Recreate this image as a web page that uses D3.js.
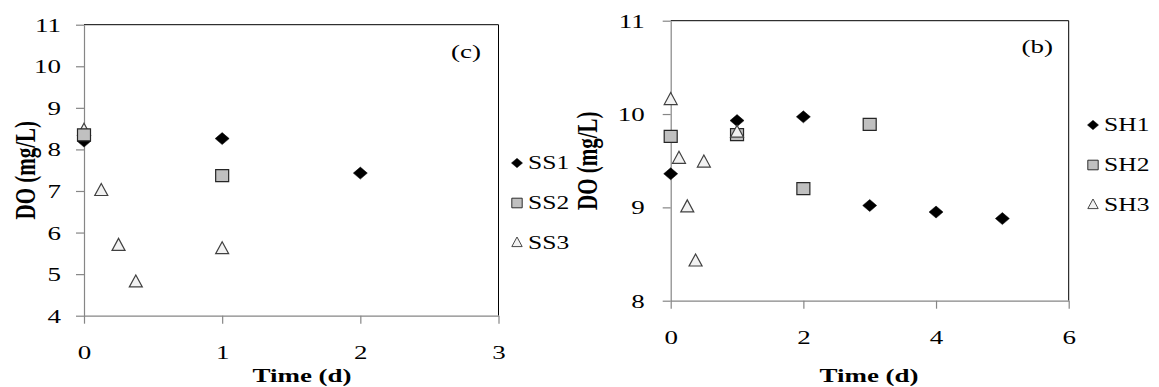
<!DOCTYPE html>
<html>
<head>
<meta charset="utf-8">
<script src="https://cdn.jsdelivr.net/npm/d3@7"></script>
<style>
  html, body { margin: 0; padding: 0; background: #fff; }
  svg { display: block; }
</style>
</head>
<body>
<script>
// panel (c): SS series
const ssTime1 = [0, 1, 2]
const ssDO1 = [8.2, 8.26, 7.43]
const ssTime2 = [0, 1]
const ssDO2 = [8.35, 7.37]
const ssTime3 = [0, 0.125, 0.25, 0.375, 1]
const ssDO3 = [8.45, 7.0, 5.68, 4.8, 5.6]

// panel (b): SH series
const shTime1 = [0, 1, 2, 3, 4, 5]
const shDO1 = [9.36, 9.93, 9.97, 9.02, 8.95, 8.88]
const shTime2 = [0, 1, 2, 3]
const shDO2 = [9.76, 9.78, 9.2, 9.89]
const shTime3 = [0, 0.125, 0.25, 0.375, 0.5, 1]
const shDO3 = [10.15, 9.52, 9.0, 8.42, 9.48, 9.8]

const ssTicksY = [4, 5, 6, 7, 8, 9, 10, 11]
const ssTicksX = [0, 1, 2, 3]
const shTicksY = [8, 9, 10, 11]
const shTicksX = [0, 2, 4, 6]

const width = 1159, height = 387
const FONT = "'Liberation Serif', 'Times New Roman', serif"
const SX = 1.42   // the source picture is stretched sideways

const svg = d3.select('body').append('svg')
  .attr('width', width)
  .attr('height', height)

const zip = (xs, ys) => xs.map((x, i) => ({x: x, y: ys[i]}))

const symbols = {
  diamond: 'M0,-6L7,0L0,6L-7,0Z',
  square: 'M-6.5,-6L6.5,-6L6.5,6L-6.5,6Z',
  triangle: 'M0,-7.5L6.5,4.5L-6.5,4.5Z'
}
const styles = {
  diamond: {fill: '#000', stroke: '#000', sw: 0.5},
  square: {fill: '#c0c0c0', stroke: '#262626', sw: 1.2},
  triangle: {fill: '#f2f2f2', stroke: '#404040', sw: 1.2}
}

const drawPanel = cfg => {
  const x = d3.scaleLinear().domain(cfg.xDomain).range([cfg.left, cfg.right])
  const y = d3.scaleLinear().domain(cfg.yDomain).range([cfg.bottom, cfg.top])
  const g = svg.append('g')

  // frame: top and right in black
  g.append('path')
    .attr('d', `M${cfg.left},${cfg.top}H${cfg.right}V${cfg.bottom}`)
    .attr('fill', 'none').attr('stroke', '#000').attr('stroke-width', 1)

  const yAxis = g.append('g')
    .attr('transform', `translate(${cfg.left},0)`)
    .call(d3.axisLeft(y).tickValues(cfg.yTicks).tickFormat(d3.format('d'))
      .tickSize(8).tickSizeOuter(0).tickPadding(0))
  const xAxis = g.append('g')
    .attr('transform', `translate(0,${cfg.bottom})`)
    .call(d3.axisBottom(x).tickValues(cfg.xTicks).tickFormat(d3.format('d'))
      .tickSize(8).tickSizeOuter(0).tickPadding(0))

  ;[yAxis, xAxis].forEach(a => {
    a.select('.domain').attr('stroke', '#868686').attr('stroke-width', 1.2)
    a.selectAll('.tick line').attr('stroke', '#868686').attr('stroke-width', 1.2)
    a.selectAll('text')
      .attr('font-family', FONT).attr('font-size', 19).attr('fill', '#000')
  })
  yAxis.selectAll('text')
    .attr('x', -cfg.yLabelGap / SX).attr('dy', '0.34em')
    .attr('transform', `scale(${SX},1)`)
  xAxis.selectAll('text')
    .attr('y', 43).attr('dy', 0)
    .attr('transform', `scale(${SX},1)`)

  // axis titles
  g.append('text')
    .attr('transform', `translate(${cfg.titleX},${(cfg.top + cfg.bottom) / 2}) rotate(-90) scale(1,${SX})`)
    .attr('text-anchor', 'middle').attr('dy', '0.33em')
    .attr('font-family', FONT).attr('font-weight', 'bold').attr('font-size', 21)
    .text('DO (mg/L)')
  g.append('text')
    .attr('transform', `translate(${cfg.timeX},382) scale(${SX},1)`)
    .attr('text-anchor', 'middle')
    .attr('font-family', FONT).attr('font-weight', 'bold').attr('font-size', 19)
    .text('Time (d)')

  // panel tag
  g.append('text')
    .attr('transform', `translate(${cfg.tagX},${cfg.tagY}) scale(${SX},1)`)
    .attr('text-anchor', 'end')
    .attr('font-family', FONT).attr('font-size', 19)
    .text(cfg.tag)

  // points
  cfg.order.forEach(i => {
    const s = cfg.series[i]
    const st = styles[s.shape]
    g.append('g').selectAll('path')
      .data(s.points)
      .enter().append('path')
        .attr('d', symbols[s.shape])
        .attr('transform', d => `translate(${x(d.x)},${y(d.y)})`)
        .attr('fill', st.fill).attr('stroke', st.stroke).attr('stroke-width', st.sw)
  })

  // legend
  const leg = g.append('g')
  cfg.series.forEach((s, i) => {
    const ly = cfg.legendY + i * 40
    const st = styles[s.shape]
    leg.append('path')
      .attr('d', symbols[s.shape])
      .attr('transform', `translate(${cfg.legendX},${ly}) scale(0.8)`)
      .attr('fill', st.fill).attr('stroke', st.stroke).attr('stroke-width', st.sw)
    leg.append('text')
      .attr('transform', `translate(${cfg.legendX + 11},${ly}) scale(${SX},1)`)
      .attr('dy', '0.35em')
      .attr('font-family', FONT).attr('font-size', 18)
      .text(s.name)
  })
}

drawPanel({
  left: 84, right: 498.5, top: 24.7, bottom: 315.7,
  xDomain: [0, 3], yDomain: [4, 11],
  xTicks: ssTicksX, yTicks: ssTicksY,
  yLabelGap: 23, titleX: 25, timeX: 302,
  tag: '(c)', tagX: 481, tagY: 58,
  legendX: 517, legendY: 163,
  order: [0, 2, 1],
  series: [
    {name: 'SS1', shape: 'diamond', points: zip(ssTime1, ssDO1)},
    {name: 'SS2', shape: 'square', points: zip(ssTime2, ssDO2)},
    {name: 'SS3', shape: 'triangle', points: zip(ssTime3, ssDO3)}
  ]
})

drawPanel({
  left: 670.7, right: 1068.7, top: 20.7, bottom: 300.7,
  xDomain: [0, 6], yDomain: [8, 11],
  xTicks: shTicksX, yTicks: shTicksY,
  yLabelGap: 26, titleX: 587, timeX: 869,
  tag: '(b)', tagX: 1053, tagY: 53,
  legendX: 1093, legendY: 125,
  order: [0, 1, 2],
  series: [
    {name: 'SH1', shape: 'diamond', points: zip(shTime1, shDO1)},
    {name: 'SH2', shape: 'square', points: zip(shTime2, shDO2)},
    {name: 'SH3', shape: 'triangle', points: zip(shTime3, shDO3)}
  ]
})
</script>
</body>
</html>
